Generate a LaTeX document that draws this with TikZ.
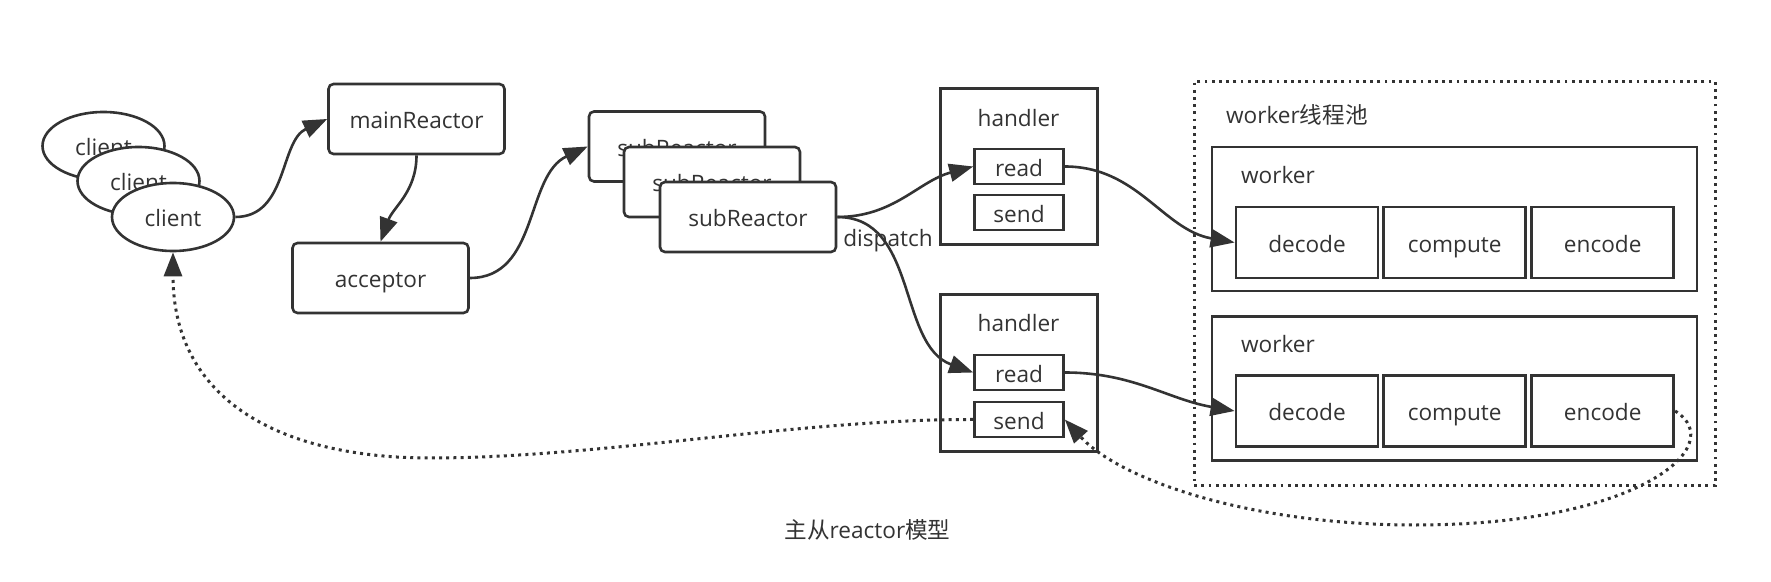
\documentclass[tikz,border=0pt]{standalone}
\usepackage{fontspec}
\setmainfont{Open Sans}
\newfontfamily\cjk{Noto Sans CJK SC}
\usetikzlibrary{arrows.meta,shapes.geometric}
\definecolor{ink}{HTML}{333333}
\tikzset{
  txt/.style={text=ink, font=\fontsize{11.3}{13.6}\selectfont},
  boxtxt/.style={txt, text height=9.6pt, text depth=0pt},
  client/.style={boxtxt, ellipse, draw=ink, line width=1.3pt, fill=white, inner sep=0pt, minimum width=61pt, minimum height=34pt},
  reactor/.style={boxtxt, draw=ink, line width=1.3pt, fill=white, rounded corners=2.5pt, minimum width=88pt, minimum height=35pt, inner sep=0pt},
  handlerbox/.style={draw=ink, line width=1.5pt, minimum width=78.5pt, minimum height=78pt, inner sep=0pt},
  opbox/.style={boxtxt, draw=ink, line width=1.3pt, minimum width=44.5pt, minimum height=17.5pt, inner sep=0pt},
  poolbox/.style={draw=ink, line width=1.4pt, dash pattern=on 1.4pt off 2.2pt, minimum width=260.5pt, minimum height=202pt, inner sep=0pt},
  workerbox/.style={draw=ink, line width=1.4pt, minimum width=242.5pt, minimum height=72pt, inner sep=0pt},
  stage/.style={boxtxt, draw=ink, line width=1.4pt, minimum width=71pt, minimum height=35.5pt, inner sep=0pt},
  flow/.style={ink, line width=1.3pt, -{Triangle[length=12pt,width=9pt]}},
  back/.style={ink, line width=1.5pt, dash pattern=on 1.5pt off 2.1pt, -{Triangle[length=12pt,width=9pt]}},
}

\begin{document}
\begin{tikzpicture}[x=0.5pt, y=-0.5pt]
  %%%%% START %%%%%
  \useasboundingbox (0,0) rectangle (1771,582);

  % clients
  \node[client] (client1) at (103.5,146) {client};
  \node[client] (client2) at (138.5,181) {client};
  \node[client] (client3) at (173,217) {client};

  % reactors
  \node[reactor] (main) at (416.5,119) {mainReactor};
  \node[reactor] (acceptor) at (380.5,278) {acceptor};
  \node[reactor] (sub1) at (677,146.5) {subReactor};
  \node[reactor] (sub2) at (712,182) {subReactor};
  \node[reactor] (sub3) at (748,217) {subReactor};
  \node[txt] (dispatch) at (888,240.5) {dispatch};

  % handlers
  \node[handlerbox] (handler1) at (1018.5,166.5) {};
  \node[txt] (hlabel1) at (1018.5,118) {handler};
  \node[opbox] (read1) at (1019,166.5) {read};
  \node[opbox] (send1) at (1019,212.5) {send};

  \node[handlerbox] (handler2) at (1018.5,373) {};
  \node[txt] (hlabel2) at (1018.5,323) {handler};
  \node[opbox] (read2) at (1019,372.5) {read};
  \node[opbox] (send2) at (1019,419.5) {send};

  % worker pool
  \node[poolbox] (pool) at (1454.75,283.5) {};
  \node[txt, anchor=west] (plabel) at (1219,115) {worker{\cjk 线程池}};

  \node[workerbox] (worker1) at (1454.5,219) {};
  \node[txt, anchor=west] (wlabel1) at (1234,175) {worker};
  \node[stage] (decode1) at (1307,242.5) {decode};
  \node[stage] (compute1) at (1454.7,242.5) {compute};
  \node[stage] (encode1) at (1602.7,242.5) {encode};

  \node[workerbox] (worker2) at (1454.5,388.5) {};
  \node[txt, anchor=west] (wlabel2) at (1234,344) {worker};
  \node[stage] (decode2) at (1307,411) {decode};
  \node[stage] (compute2) at (1454.7,411) {compute};
  \node[stage] (encode2) at (1602.7,411) {encode};

  \node[txt] (caption) at (867.5,530) {{\cjk 主从}reactor{\cjk 模型}};

  % connectors
  \draw[flow] (client3.east) to[out=0,in=205] (main.west);
  \draw[flow] (main.south) to[out=-90,in=70] (acceptor.north);
  \draw[flow] (acceptor.east) to[out=0,in=205] (sub1.west);
  \draw[flow] (sub3.east) to[out=0,in=195] (read1.west);
  \draw[flow] (sub3.east) to[out=0,in=160] (read2.west);
  \draw[flow] (read1.east) to[out=0,in=170] (decode1.west);
  \draw[flow] (read2.east) to[out=0,in=170] (decode2.west);

  \coordinate (low1) at (430,458);
  \coordinate (low2) at (1416,525);
  \draw[back] (send2.west) .. controls (800,419) and (600,458) .. (low1)
    .. controls (280,458) and (173,400) .. (client3.south);
  \draw[back] (encode2.east) .. controls (1730,445) and (1640,525) .. (low2)
    .. controls (1250,525) and (1120,480) .. (send2.east);
  %%%%% END %%%%%
\end{tikzpicture}
\end{document}
